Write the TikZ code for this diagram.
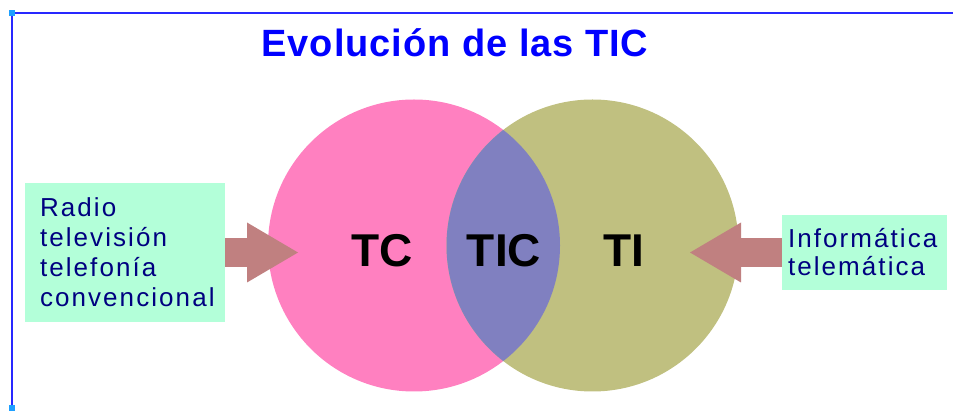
\documentclass[tikz,border=0pt]{standalone}
\usepackage{fontspec}
\setmainfont{Liberation Sans}
\newfontfamily\titlefont[LetterSpace=2.5]{Liberation Sans}
\newfontfamily\boxfont[LetterSpace=8]{Liberation Sans}
\usepackage{xcolor}
\usepackage{tikz}
\usetikzlibrary{arrows.meta}

\definecolor{framblue}{RGB}{40,40,255}
\definecolor{handlecyan}{RGB}{30,160,255}
\definecolor{tcpink}{RGB}{255,128,192}
\definecolor{tiolive}{RGB}{192,192,128}
\definecolor{ticlens}{RGB}{128,128,192}
\definecolor{arrowrose}{RGB}{192,128,128}
\definecolor{boxgreen}{RGB}{179,255,217}
\definecolor{boxtext}{RGB}{0,0,128}

\tikzset{
  circlebox/.style={circle, minimum size=292pt, inner sep=0pt},
  circlelabel/.style={anchor=base, font=\bfseries\fontsize{46}{46}\selectfont},
  infobox/.style={fill=boxgreen, text=boxtext, align=left, anchor=center},
  fatarrow/.style={draw=arrowrose, line width=29pt,
    -{Triangle[length=51pt,width=60pt,line width=0pt]}}
}

\begin{document}
\begin{tikzpicture}[x=1pt,y=-1pt]
\useasboundingbox (0,0) rectangle (953,411);
%frame
\draw[framblue, line width=2pt] (12,411) -- (12,13) -- (953,13);
\fill[handlecyan] (9,10) rectangle (15,16);
\fill[handlecyan] (9,405) rectangle (15,411);
\node[anchor=base, text=blue, font=\titlefont\bfseries\fontsize{38}{38}\selectfont]
  (title) at (455,57) {Evolución de las TIC};
%circles
\node[circlebox, fill=tcpink] (tc) at (414,245.5) {};
\node[circlebox, fill=tiolive] (ti) at (592.5,245.5) {};
\begin{scope}
  \clip (tc.center) circle[radius=146pt];
  \fill[ticlens] (ti.center) circle[radius=146pt];
\end{scope}
\node[circlelabel] (tclabel) at (382,267) {TC};
\node[circlelabel] (ticlabel) at (504,267) {TIC};
\node[circlelabel] (tilabel) at (624,267) {TI};
%boxes
\node[infobox, text width=170pt, inner xsep=15pt, inner ysep=0pt, minimum height=139pt,
  font=\boxfont\fontsize{26}{30}\selectfont]
  (lbox) at (125,252.5) {Radio\\televisión\\telefonía\\convencional};
\node[infobox, text width=153pt, inner xsep=6pt, inner ysep=0pt, minimum height=75pt,
  font=\boxfont\fontsize{26}{28}\selectfont]
  (rbox) at (864.5,252.5) {Informática\\telemática};
\coordinate (ltip) at (298,252.5);
\coordinate (rtip) at (690,252.5);
\draw[fatarrow] (lbox.east) -- (ltip);
\draw[fatarrow] (rbox.west) -- (rtip);
\end{tikzpicture}
\end{document}
